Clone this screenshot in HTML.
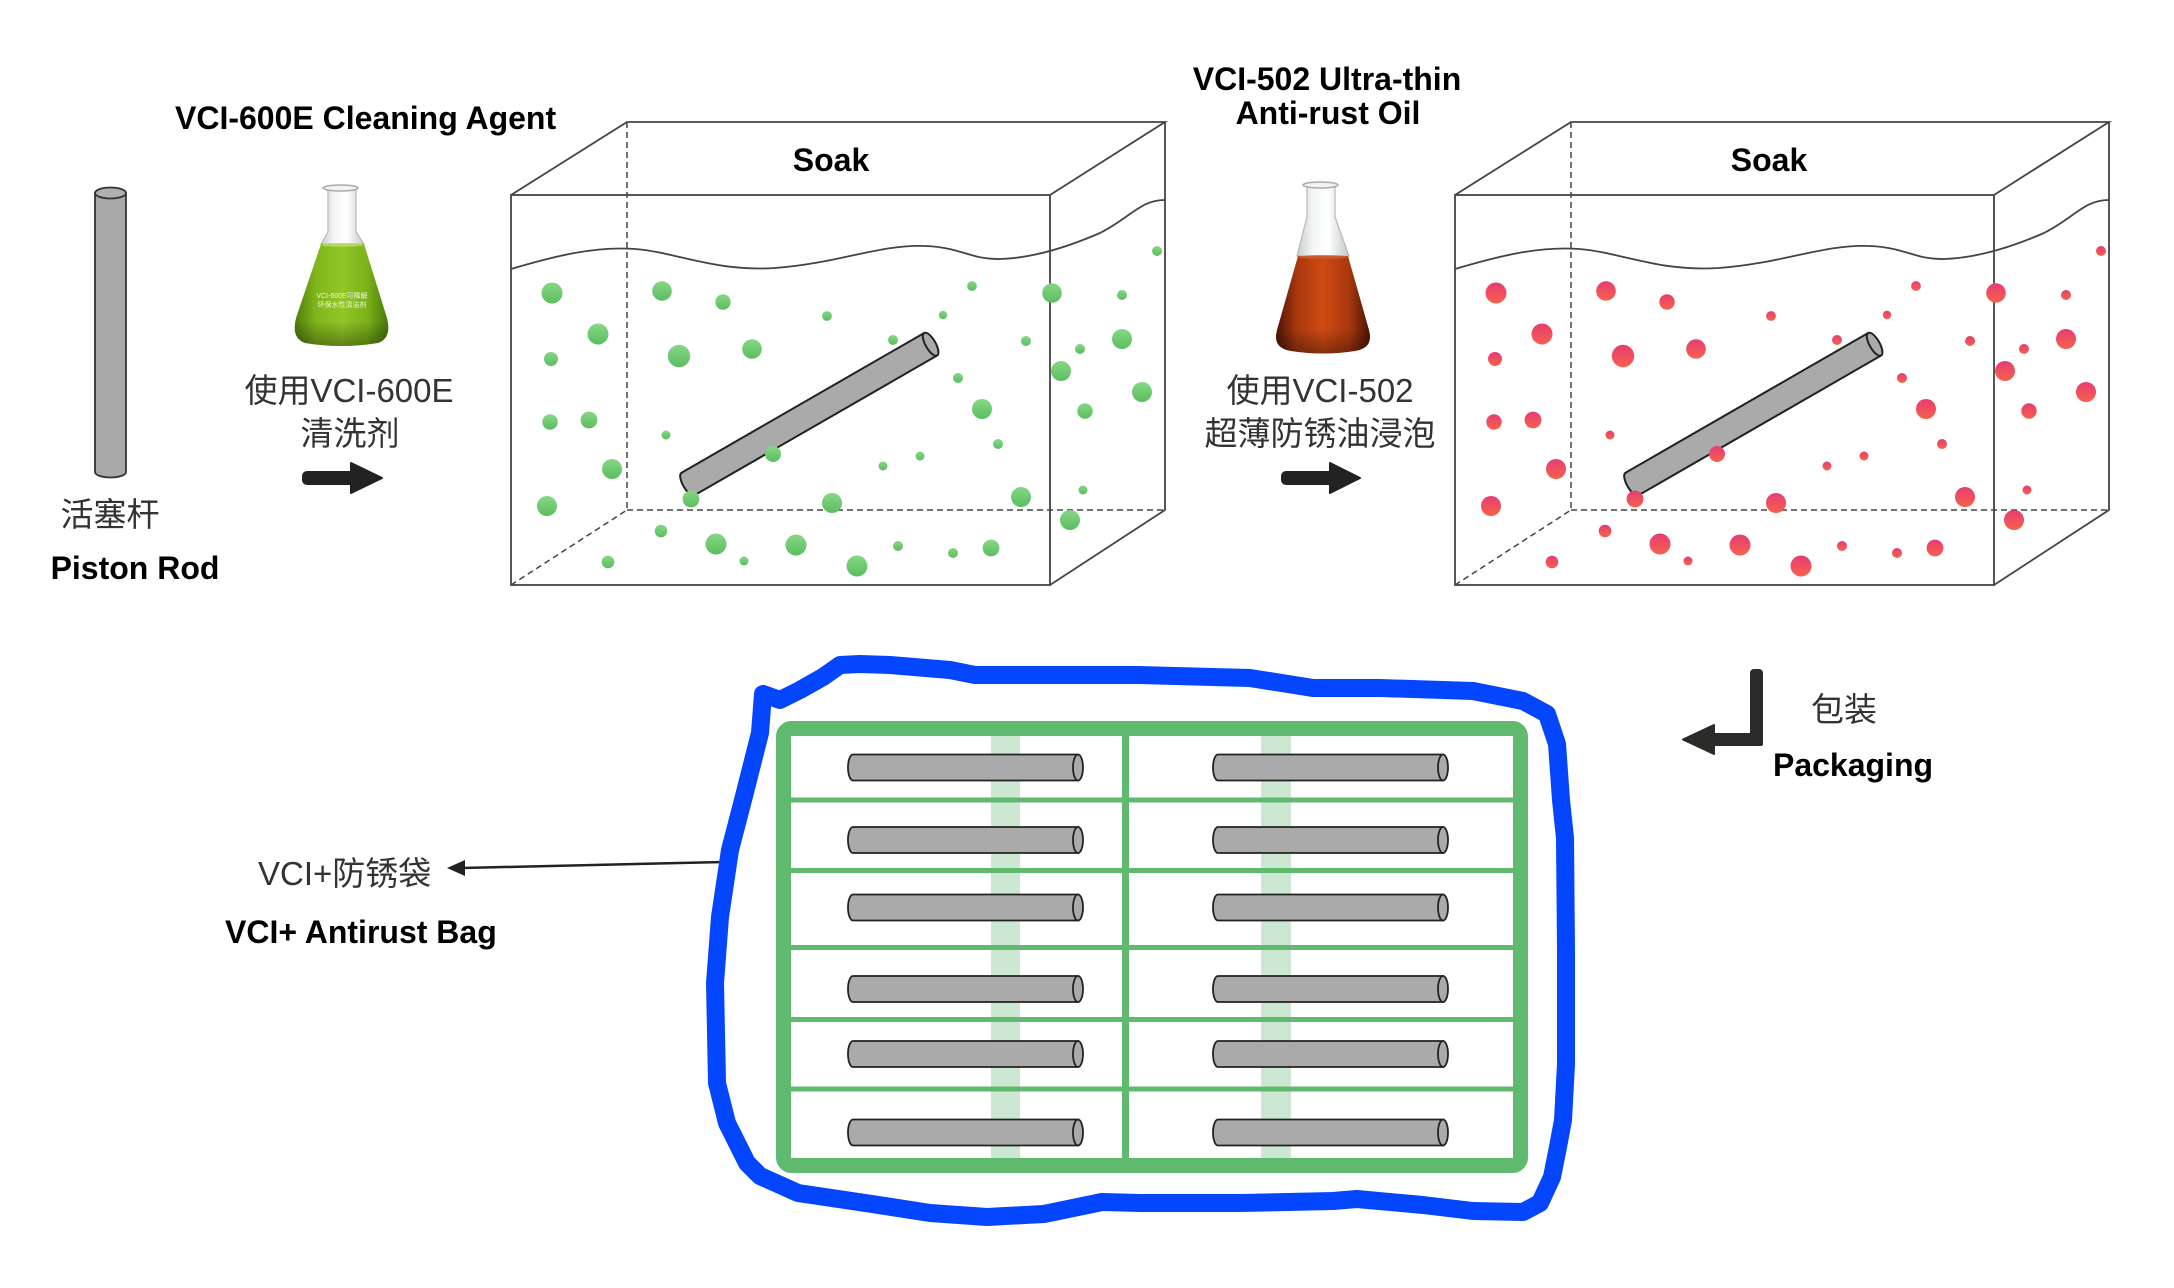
<!DOCTYPE html>
<html>
<head>
<meta charset="utf-8">
<style>
html,body{margin:0;padding:0;background:#fff;}
body{width:2174px;height:1288px;overflow:hidden;}
svg{display:block;}
.b{font-family:"Liberation Sans",Arial,sans-serif;font-weight:bold;font-size:32px;fill:#000;}
.c{font-family:"Liberation Sans","Noto Sans CJK SC",sans-serif;font-size:33px;fill:#333;}
</style>
</head>
<body>
<svg width="2174" height="1288" viewBox="0 0 2174 1288" xmlns="http://www.w3.org/2000/svg">
<defs>
  <linearGradient id="gG" x1="0" y1="0" x2="0" y2="1">
    <stop offset="0" stop-color="#86d886"/>
    <stop offset="1" stop-color="#5bbd5f"/>
  </linearGradient>
  <linearGradient id="gR" x1="0" y1="0" x2="0" y2="1">
    <stop offset="0" stop-color="#e63d72"/>
    <stop offset="1" stop-color="#f6614c"/>
  </linearGradient>
  <linearGradient id="liqG" x1="0" y1="0" x2="1" y2="0">
    <stop offset="0" stop-color="#4d7d0c"/>
    <stop offset="0.22" stop-color="#80b51a"/>
    <stop offset="0.5" stop-color="#92c628"/>
    <stop offset="0.78" stop-color="#7bb218"/>
    <stop offset="1" stop-color="#4a780c"/>
  </linearGradient>
  <linearGradient id="liqO" x1="0" y1="0" x2="1" y2="0">
    <stop offset="0" stop-color="#4a1406"/>
    <stop offset="0.22" stop-color="#a8380e"/>
    <stop offset="0.5" stop-color="#cf4a12"/>
    <stop offset="0.78" stop-color="#a8380e"/>
    <stop offset="1" stop-color="#4a1406"/>
  </linearGradient>
  <linearGradient id="glass" x1="0" y1="0" x2="1" y2="0">
    <stop offset="0" stop-color="#c9cccc"/>
    <stop offset="0.3" stop-color="#f4f6f6"/>
    <stop offset="0.6" stop-color="#ffffff"/>
    <stop offset="1" stop-color="#c4c8c8"/>
  </linearGradient>
  <linearGradient id="botShade" x1="0" y1="0" x2="0" y2="1">
    <stop offset="0" stop-color="#000" stop-opacity="0"/>
    <stop offset="0.75" stop-color="#000" stop-opacity="0"/>
    <stop offset="1" stop-color="#000" stop-opacity="0.35"/>
  </linearGradient>
  <g id="dots">
    <circle cx="552" cy="293" r="10.5"/><circle cx="662" cy="291" r="9.8"/><circle cx="723" cy="302" r="7.7"/>
    <circle cx="972" cy="286" r="4.9"/><circle cx="1052" cy="293" r="9.8"/><circle cx="827" cy="316" r="4.9"/>
    <circle cx="943" cy="315" r="4.2"/><circle cx="598" cy="334" r="10.5"/><circle cx="679" cy="356" r="11.2"/>
    <circle cx="752" cy="349" r="9.8"/><circle cx="893" cy="340" r="5"/><circle cx="1026" cy="341" r="5"/>
    <circle cx="1080" cy="349" r="5"/><circle cx="551" cy="359" r="7"/><circle cx="1061" cy="371" r="10"/>
    <circle cx="958" cy="378" r="5"/><circle cx="982" cy="409" r="10"/><circle cx="1085" cy="411" r="7.7"/>
    <circle cx="550" cy="422" r="7.7"/><circle cx="589" cy="420" r="8.4"/><circle cx="666" cy="435" r="4.5"/>
    <circle cx="998" cy="444" r="5"/><circle cx="773" cy="454" r="8"/><circle cx="920" cy="456" r="4.5"/>
    <circle cx="883" cy="466" r="4.5"/><circle cx="612" cy="469" r="10"/><circle cx="1021" cy="497" r="10"/>
    <circle cx="1083" cy="490" r="4.5"/><circle cx="547" cy="506" r="10"/><circle cx="691" cy="499" r="8.4"/>
    <circle cx="832" cy="503" r="10"/><circle cx="1070" cy="520" r="10"/><circle cx="661" cy="531" r="6.3"/>
    <circle cx="716" cy="544" r="10.5"/><circle cx="796" cy="545" r="10.5"/><circle cx="898" cy="546" r="5"/>
    <circle cx="991" cy="548" r="8.4"/><circle cx="608" cy="562" r="6.3"/><circle cx="744" cy="561" r="4.5"/>
    <circle cx="857" cy="566" r="10.5"/><circle cx="953" cy="553" r="5"/><circle cx="1157" cy="251" r="5"/>
    <circle cx="1122" cy="295" r="5"/><circle cx="1122" cy="339" r="10"/><circle cx="1142" cy="392" r="10"/>
  </g>
  <g id="tank">
    <g fill="none" stroke="#444" stroke-width="1.5" stroke-dasharray="6 4">
      <line x1="627" y1="122" x2="627" y2="510"/>
      <line x1="627" y1="510" x2="1165" y2="510"/>
      <line x1="511" y1="585" x2="627" y2="510"/>
    </g>
    <g fill="none" stroke="#444" stroke-width="1.8">
      <rect x="511" y="195" width="539" height="390"/>
      <path d="M511,195 L627,122 L1165,122 L1050,195 M1165,122 L1165,510 L1050,585"/>
      <path d="M511,269 C555,256 595,246 635,249 C675,252 715,272 775,268 C840,263 880,244 925,246 C960,247 972,260 1000,259 C1035,258 1070,246 1100,233 C1130,218 1140,200 1165,200"/>
    </g>
    <g transform="translate(688,484) rotate(-29.94)" fill="#aaaaaa" stroke="#222" stroke-width="2">
      <path d="M0,-13 L280,-13 L280,13 L0,13 A5,13 0 0 1 0,-13 Z"/>
      <ellipse cx="280" cy="0" rx="5" ry="13"/>
    </g>
  </g>
  <g id="hrod" fill="#aaaaaa" stroke="#222" stroke-width="1.8">
    <path d="M5,0 L230,0 L230,26 L5,26 A5,13 0 0 1 5,0 Z"/>
    <ellipse cx="230" cy="13" rx="5" ry="13"/>
  </g>
  <g id="rodcol">
    <use href="#hrod" y="754.5"/>
    <use href="#hrod" y="827"/>
    <use href="#hrod" y="894.5"/>
    <use href="#hrod" y="976"/>
    <use href="#hrod" y="1041"/>
    <use href="#hrod" y="1119.5"/>
  </g>
</defs>

<g fill="#a9a9a9" stroke="#333" stroke-width="1.8">
  <path d="M95,193 L95,472 A15.5,5.5 0 0 0 126,472 L126,193 Z"/>
  <ellipse cx="110.5" cy="193" rx="15.5" ry="5.5" fill="#b0b0b0"/>
</g>
<text class="c" x="110" y="526" text-anchor="middle" font-size="32">活塞杆</text>
<text class="b" x="135" y="579" text-anchor="middle">Piston Rod</text>

<text class="b" x="175" y="129">VCI-600E Cleaning Agent</text>
<path d="M328,189 L356,189 L356,232 L364,244 L321,244 L328,232 Z" fill="url(#glass)" stroke="#b5b9b9" stroke-width="1.2"/>
<ellipse cx="340.5" cy="188" rx="17.5" ry="3" fill="#f2f4f4" stroke="#a8acac" stroke-width="1.5"/>
<path d="M321,244 L364,244 L387,318 Q392,338 378,343 Q341,349 305,343 Q291,338 296,318 Z" fill="url(#liqG)"/>
<path d="M321,244 L364,244 L387,318 Q392,338 378,343 Q341,349 305,343 Q291,338 296,318 Z" fill="url(#botShade)"/>
<ellipse cx="342.5" cy="245" rx="21" ry="1.8" fill="#b3d860"/>
<text x="342" y="298" text-anchor="middle" font-family="Liberation Sans,'Noto Sans CJK SC',sans-serif" font-size="7" fill="#eef7d8">VCI-600E可降解</text>
<text x="342" y="307" text-anchor="middle" font-family="Liberation Sans,'Noto Sans CJK SC',sans-serif" font-size="7" fill="#eef7d8">环保水性清洁剂</text>
<text class="c" x="349" y="402" text-anchor="middle">使用VCI-600E</text>
<text class="c" x="350" y="445" text-anchor="middle" font-size="35">清洗剂</text>
<rect x="302" y="471" width="54" height="14" rx="5" fill="#222"/>
<path d="M351,463 L382,478 L351,493 Z" fill="#222" stroke="#222" stroke-width="2" stroke-linejoin="round"/>

<use href="#tank"/>
<use href="#dots" fill="url(#gG)"/>
<text class="b" x="831" y="171" text-anchor="middle">Soak</text>

<text class="b" x="1327" y="90" text-anchor="middle">VCI-502 Ultra-thin</text>
<text class="b" x="1328" y="124" text-anchor="middle">Anti-rust Oil</text>
<path d="M1307,186 L1335,186 L1335,217 L1349,256 L1297,256 L1307,217 Z" fill="url(#glass)" stroke="#b5b9b9" stroke-width="1.2"/>
<ellipse cx="1320.5" cy="185" rx="17.5" ry="3" fill="#f2f4f4" stroke="#a8acac" stroke-width="1.5"/>
<path d="M1298,256 L1348,256 L1369,330 Q1374,348 1355,351 Q1323,356 1291,351 Q1272,348 1277,330 Z" fill="url(#liqO)"/>
<path d="M1298,256 L1348,256 L1369,330 Q1374,348 1355,351 Q1323,356 1291,351 Q1272,348 1277,330 Z" fill="url(#botShade)"/>
<ellipse cx="1323" cy="257" rx="25" ry="1.8" fill="#c85a30"/>
<text class="c" x="1320" y="402" text-anchor="middle">使用VCI-502</text>
<text class="c" x="1320" y="445" text-anchor="middle">超薄防锈油浸泡</text>
<rect x="1281" y="471" width="54" height="14" rx="5" fill="#222"/>
<path d="M1330,463 L1360,478 L1330,493 Z" fill="#222" stroke="#222" stroke-width="2" stroke-linejoin="round"/>

<use href="#tank" transform="translate(944,0)"/>
<use href="#dots" transform="translate(944,0)" fill="url(#gR)"/>
<text class="b" x="1769" y="171" text-anchor="middle">Soak</text>

<rect x="1750" y="669" width="13" height="77" rx="4" fill="#2a2a28"/>
<rect x="1710" y="733" width="53" height="13" rx="2" fill="#2a2a28"/>
<path d="M1683,739.5 L1714,725 L1714,754 Z" fill="#2a2a28" stroke="#2a2a28" stroke-width="2" stroke-linejoin="round"/>
<text class="c" x="1844" y="721" text-anchor="middle" font-size="31">包装</text>
<text class="b" x="1853" y="776" text-anchor="middle">Packaging</text>

<text class="c" x="258" y="885" font-size="34">VCI+防锈袋</text>
<line x1="724" y1="862" x2="462" y2="868" stroke="#222" stroke-width="2.5"/>
<path d="M447,868 L465,860 L465,876 Z" fill="#222"/>
<text class="b" x="225" y="943">VCI+ Antirust Bag</text>

<rect x="991" y="736" width="29" height="422" fill="#cce8d3"/>
<rect x="1261" y="736" width="30" height="422" fill="#cce8d3"/>
<path d="M790,800 H1514 M790,870.5 H1514 M790,947.5 H1514 M790,1019.5 H1514 M790,1089 H1514" stroke="#5fb96e" stroke-width="5" fill="none"/>
<line x1="1125.5" y1="736" x2="1125.5" y2="1158" stroke="#5fb96e" stroke-width="7"/>
<rect x="783.5" y="728.5" width="737" height="437" rx="8" stroke="#5fb96e" stroke-width="15" fill="none"/>
<use href="#rodcol" x="848"/>
<use href="#rodcol" x="1213"/>

<path fill="none" stroke="#0446fe" stroke-width="18" stroke-linejoin="round" stroke-linecap="round" d="M763,694 L780,700 L800,690 L823,677 L840,665 L860,664 L890,665 L950,670 L975,675 L1050,675 L1140,675 L1250,678 L1313,688 L1380,688 L1473,691 L1523,701 L1547,714 L1557,744 L1561,800 L1565,838 L1566,951 L1566,1064 L1563,1120 L1558,1147 L1552,1177 L1540,1203 L1523,1212 L1473,1211 L1423,1205 L1357,1199 L1333,1201 L1240,1203 L1140,1203 L1102,1202 L1044,1214 L987,1217 L930,1213 L872,1204 L798,1193 L760,1176 L747,1163 L727,1123 L717,1083 L715,983 L720,917 L730,850 L743,800 L760,733 L763,694 Z"/>
</svg>
</body>
</html>
